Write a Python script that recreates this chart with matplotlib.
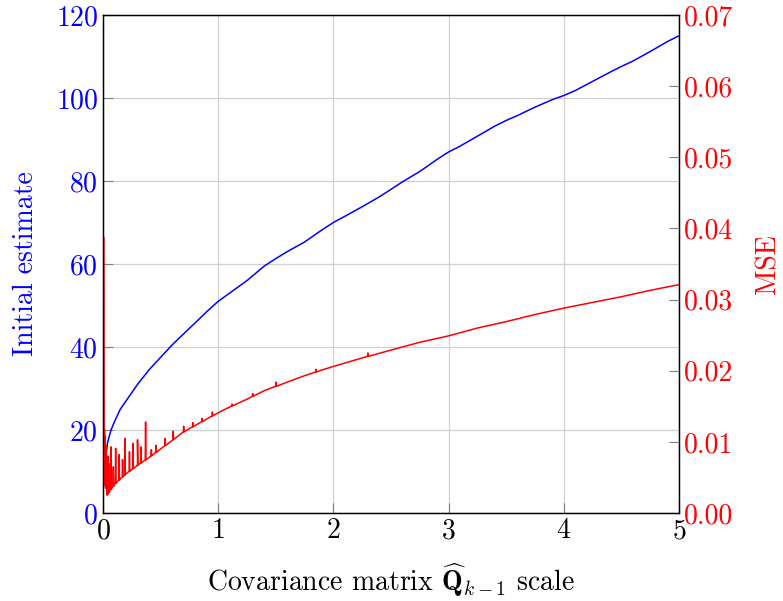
import numpy as np
import matplotlib
matplotlib.use("Agg")
import matplotlib.pyplot as plt

# ---------------------------------------------------------------- data ----
# blue curve: initial estimate vs covariance scale
x_init = [0.006, 0.01, 0.02, 0.04, 0.07, 0.1, 0.15, 0.2, 0.25, 0.3, 0.4, 0.5,
          0.6, 0.75, 0.8, 0.9, 1.0, 1.1, 1.25, 1.4, 1.5, 1.6, 1.75, 1.9, 2.0,
          2.1, 2.25, 2.4, 2.5, 2.6, 2.75, 2.9, 3.0, 3.1, 3.25, 3.4, 3.5, 3.6,
          3.75, 3.9, 4.0, 4.1, 4.25, 4.4, 4.5, 4.6, 4.75, 4.9, 5.0]
y_init = [6.5, 8.5, 12.5, 17.0, 20.0, 22.0, 25.0, 27.0, 29.0, 31.0, 34.5, 37.5,
          40.5, 44.5, 45.8, 48.5, 51.0, 53.0, 56.0, 59.5, 61.3, 63.0, 65.3,
          68.2, 70.0, 71.5, 73.8, 76.2, 78.0, 79.8, 82.3, 85.2, 87.0, 88.4,
          90.8, 93.2, 94.6, 95.8, 97.8, 99.6, 100.6, 101.8, 104.0, 106.2,
          107.6, 108.9, 111.2, 113.6, 115.0]

# red curve: MSE baseline
x_mse = [0.008, 0.010, 0.013, 0.016, 0.019, 0.023, 0.027, 0.035, 0.06, 0.1,
         0.15, 0.2, 0.3, 0.4, 0.5, 0.6, 0.7, 0.8, 0.9, 1.0, 1.1, 1.25, 1.4,
         1.5, 1.6, 1.75, 1.9, 2.0, 2.25, 2.5, 2.75, 3.0, 3.25, 3.5, 3.75, 4.0,
         4.25, 4.5, 4.75, 5.0]
y_mse = [0.0387, 0.006, 0.0117, 0.004, 0.0108, 0.0035, 0.0095, 0.0025, 0.0031,
         0.0040, 0.0048, 0.0055, 0.0067, 0.0078, 0.0090, 0.0102, 0.0114,
         0.0123, 0.0132, 0.0141, 0.0149, 0.0160, 0.0172, 0.0178, 0.0184,
         0.0193, 0.0201, 0.0206, 0.0218, 0.0229, 0.0240, 0.0249, 0.0260,
         0.0269, 0.0279, 0.0288, 0.0296, 0.0304, 0.0313, 0.0321]

# MSE spikes (position, peak)
spike_x = [0.042, 0.05, 0.07, 0.09, 0.11, 0.14, 0.17, 0.19, 0.23, 0.26, 0.30,
           0.33, 0.37, 0.42, 0.46, 0.54, 0.61, 0.7, 0.78, 0.86, 0.95, 1.12,
           1.3, 1.5, 1.85, 2.3]
spike_y = [0.0080, 0.0070, 0.0093, 0.0065, 0.0091, 0.0082, 0.0075, 0.0105,
           0.0086, 0.0098, 0.0103, 0.0093, 0.0128, 0.0089, 0.0095, 0.0105,
           0.0115, 0.0122, 0.0127, 0.0133, 0.0142, 0.0153, 0.0168, 0.0184,
           0.0202, 0.0225]

x_ticks = [0, 1, 2, 3, 4, 5]
init_ticks = [0, 20, 40, 60, 80, 100, 120]
mse_ticks = [0.00, 0.01, 0.02, 0.03, 0.04, 0.05, 0.06, 0.07]

# ---------------------------------------------------------------- style ---
plt.rcParams['font.family'] = 'serif'
plt.rcParams['font.serif'] = ['cmr10']
plt.rcParams['mathtext.fontset'] = 'cm'
plt.rcParams['axes.formatter.use_mathtext'] = True
FS = 20

# merge spikes into the MSE line
pts = list(zip(x_mse, y_mse))
for sx, sy in zip(spike_x, spike_y):
    base = np.interp(sx, x_mse, y_mse)
    pts += [(sx - 0.003, base), (sx, sy), (sx + 0.003, base)]
pts.sort()
mx = [p[0] for p in pts]
my = [p[1] for p in pts]

fig = plt.figure(figsize=(7.83, 6.01), dpi=100)
ax = fig.add_axes([0.1315, 0.1464, 0.7356, 0.8286])
ax2 = ax.twinx()

ax.plot(x_init, y_init, color='blue', lw=1.1)
ax2.plot(mx, my, color='red', lw=1.1)

ax.set_xlim(0, 5)
ax.set_ylim(0, 120)
ax2.set_ylim(0, 0.07)
ax.set_xticks(x_ticks)
ax.set_yticks(init_ticks)
ax2.set_yticks(mse_ticks)
ax2.set_yticklabels(['%.2f' % v for v in mse_ticks])

ax.grid(True, color='#d0d0d0', lw=0.9)
ax.set_axisbelow(True)

ax.tick_params(axis='x', direction='in', length=7, color='#808080',
               labelsize=FS, top=False)
ax.tick_params(axis='y', direction='in', length=7, color='#808080',
               labelsize=FS, labelcolor='blue', right=False)
ax2.tick_params(axis='y', direction='in', length=7, color='#808080',
                labelsize=FS, labelcolor='red', left=False)

ax.set_xlabel(r'Covariance matrix $\widehat{\mathbf{Q}}_{k-1}$ scale',
              fontsize=FS, labelpad=12)
ax.set_ylabel('Initial estimate', fontsize=FS, color='blue', labelpad=12)
ax2.set_ylabel('MSE', fontsize=FS, color='red', labelpad=16)

for a in (ax, ax2):
    for s in a.spines.values():
        s.set_linewidth(0.9)

fig.savefig('out.png', dpi=100)
